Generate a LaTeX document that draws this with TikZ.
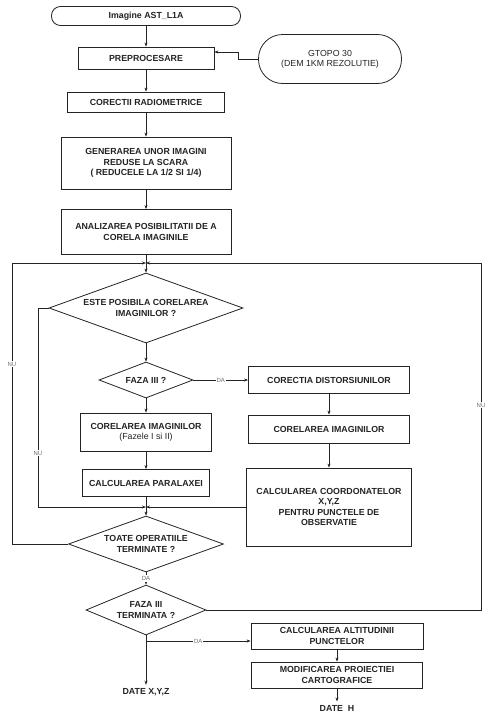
\documentclass[tikz,border=0pt]{standalone}
\usepackage{fontspec}
\setmainfont{Liberation Sans}
\usetikzlibrary{shapes.geometric,arrows.meta}
\definecolor{inkblack}{RGB}{35,35,35}
\definecolor{taggray}{RGB}{110,110,110}

\begin{document}
\begin{tikzpicture}[x=1pt,y=-1pt,
    >={Stealth[length=4pt,width=3pt]},
    every node/.style={font=\fontsize{8.8}{10.2}\selectfont\bfseries,align=center,text=inkblack},
    procbox/.style={draw=inkblack,line width=0.8pt,rectangle,inner sep=1pt},
    termbox/.style={draw=inkblack,line width=0.8pt,rectangle,inner sep=1pt},
    decbox/.style={draw=inkblack,line width=0.8pt,diamond,inner sep=0.5pt},
    flow/.style={draw=inkblack,line width=0.6pt},
    tag/.style={font=\fontsize{6}{7}\selectfont,text=taggray,fill=white,inner sep=1pt}]
            \useasboundingbox (0,0) rectangle (490,723);

            % main column
            \node[termbox,rounded corners=9pt,minimum width=189pt,minimum height=19pt] (start) at (146,16) {Imagine AST\_L1A};
            \node[procbox,minimum width=136pt,minimum height=22pt] (prep) at (146,58) {PREPROCESARE};
            \node[termbox,rounded corners=24pt,minimum width=143pt,minimum height=49pt] (gtopo) at (330,59) {\mdseries GTOPO 30\\\mdseries (DEM 1KM REZOLUTIE)};
            \node[procbox,minimum width=157pt,minimum height=20pt] (radio) at (146,102) {CORECTII RADIOMETRICE};
            \node[procbox,minimum width=170pt,minimum height=52pt] (gen) at (146,163) {GENERAREA UNOR IMAGINI\\REDUSE LA SCARA\\( REDUCELE LA 1/2 SI 1/4)};
            \node[procbox,minimum width=170pt,minimum height=45pt] (anal) at (146,232) {ANALIZAREA POSIBILITATII DE A\\CORELA IMAGINILE};
            \node[decbox,aspect=2.77,minimum width=194pt,minimum height=70pt] (este) at (146,308) {ESTE POSIBILA CORELAREA\\IMAGINILOR ?};
            \node[decbox,aspect=2.6,minimum width=94pt,minimum height=36pt] (faza) at (146,380) {FAZA III ?};
            \node[procbox,minimum width=131pt,minimum height=38pt] (corel1) at (146,432) {CORELAREA IMAGINILOR\\{\mdseries(Fazele I si II)}};
            \node[procbox,minimum width=127pt,minimum height=27pt] (paralx) at (146,483) {CALCULAREA PARALAXEI};
            \node[decbox,aspect=2.77,minimum width=155pt,minimum height=56pt] (toate) at (146,544) {TOATE OPERATIILE\\TERMINATE ?};
            \node[decbox,aspect=2.4,minimum width=120pt,minimum height=50pt] (fazaterm) at (146,610) {FAZA III\\TERMINATA ?};
            \node (datexyz) at (146,692) {DATE X,Y,Z};

            % right column
            \node[procbox,minimum width=161pt,minimum height=27pt] (cordist) at (329,380) {CORECTIA DISTORSIUNILOR};
            \node[procbox,minimum width=161pt,minimum height=28pt] (corel2) at (329,429) {CORELAREA IMAGINILOR};
            \node[procbox,minimum width=165pt,minimum height=78pt] (calcxyz) at (329,507) {CALCULAREA COORDONATELOR\\X,Y,Z\\PENTRU PUNCTELE DE\\OBSERVATIE};
            \node[procbox,minimum width=172pt,minimum height=26pt] (alt) at (337,636) {CALCULAREA ALTITUDINII\\PUNCTELOR};
            \node[procbox,minimum width=171pt,minimum height=26pt] (modif) at (337,675) {MODIFICAREA PROIECTIEI\\CARTOGRAFICE};
            \node (dateh) at (337,708) {DATE\ \ H};

            % junctions
            \coordinate (jtop) at (146,263);
            \coordinate (jbot) at (146,507);
            \coordinate (jda) at (146,641);

            \draw[flow,->] (start) -- (prep);
            \draw[flow,->] (gtopo.west) -- ++(-20,0) |- ([yshift=6pt]prep.east);
            \draw[flow,->] (prep) -- (radio);
            \draw[flow,->] (radio) -- (gen);
            \draw[flow,->] (gen) -- (anal);
            \draw[flow] (anal) -- (jtop);
            \draw[flow,->] (jtop) -- (este);
            \draw[flow,->] (este) -- (faza);
            \draw[flow,->] (faza) -- node[tag] {DA} (cordist);
            \draw[flow,->] (faza) -- (corel1);
            \draw[flow,->] (corel1) -- (paralx);
            \draw[flow] (paralx) -- (jbot);
            \draw[flow,->] (jbot) -- (toate);
            \draw[flow,->] (cordist) -- (corel2);
            \draw[flow,->] (corel2) -- (calcxyz);
            \draw[flow,->] (calcxyz) -- (jbot);
            \draw[flow,->] (este.west) -- (38,308) -- node[tag,pos=0.73] {NU} (38,507) -- (jbot);
            \draw[flow,->] (toate.west) -- (12,544) -- node[tag,pos=0.64] {NU} (12,263) -- (jtop);
            \draw[flow,->] (fazaterm.east) -- (481,610) -- node[tag,pos=0.59] {NU} (481,263) -- (jtop);
            \draw[flow,->] (toate) -- node[tag] {DA} (fazaterm);
            \draw[flow,->] (fazaterm) -- (datexyz);
            \draw[flow,->] (jda) -- node[tag,pos=0.5] {DA} (jda -| alt.west);
            \draw[flow,->] (alt) -- (modif);
            \draw[flow,->] (modif) -- (dateh);
\end{tikzpicture}
\end{document}
